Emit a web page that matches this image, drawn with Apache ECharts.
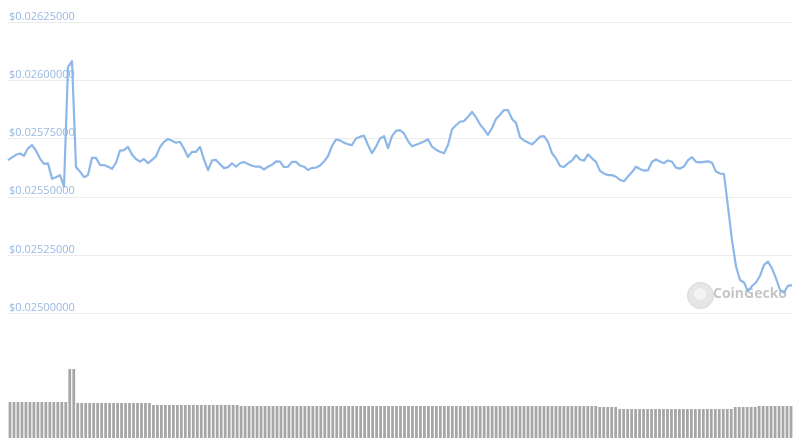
<!DOCTYPE html>
<html>
<head>
<meta charset="utf-8">
<script src="https://cdn.jsdelivr.net/npm/echarts@6/dist/echarts.min.js"></script>
<style>
html,body{margin:0;padding:0;background:#fff;}
#chart{width:800px;height:446px;}
</style>
</head>
<body>
<div id="chart"></div>
<script>
// Price (USD) sampled evenly across the period
var prices = [
0.025657,0.025669,0.025680,0.025686,0.025676,0.025708,0.025722,0.025698,0.025664,0.025641,
0.025643,0.025578,0.025584,0.025593,0.025543,0.026056,0.026082,0.025627,0.025608,0.025584,
0.025593,0.025667,0.025667,0.025636,0.025636,0.025629,0.025620,0.025646,0.025698,0.025700,
0.025714,0.025681,0.025662,0.025651,0.025662,0.025644,0.025658,0.025674,0.025713,0.025736,
0.025748,0.025740,0.025732,0.025736,0.025706,0.025671,0.025693,0.025693,0.025714,0.025660,
0.025614,0.025656,0.025658,0.025640,0.025623,0.025627,0.025644,0.025629,0.025644,0.025649,
0.025641,0.025633,0.025629,0.025629,0.025617,0.025629,0.025637,0.025652,0.025651,0.025627,
0.025629,0.025650,0.025650,0.025634,0.025629,0.025615,0.025624,0.025625,0.025634,0.025651,
0.025675,0.025718,0.025746,0.025742,0.025732,0.025725,0.025722,0.025750,0.025758,0.025762,
0.025722,0.025687,0.025715,0.025750,0.025760,0.025709,0.025760,0.025783,0.025786,0.025772,
0.025739,0.025717,0.025723,0.025730,0.025737,0.025747,0.025715,0.025702,0.025693,0.025687,
0.025722,0.025790,0.025807,0.025822,0.025825,0.025843,0.025864,0.025841,0.025811,0.025789,
0.025766,0.025795,0.025834,0.025852,0.025872,0.025872,0.025834,0.025817,0.025756,0.025741,
0.025733,0.025725,0.025740,0.025758,0.025760,0.025736,0.025687,0.025665,0.025632,0.025628,
0.025644,0.025655,0.025679,0.025660,0.025655,0.025682,0.025665,0.025650,0.025611,0.025600,
0.025593,0.025593,0.025586,0.025572,0.025567,0.025587,0.025606,0.025629,0.025619,0.025612,
0.025614,0.025650,0.025660,0.025651,0.025644,0.025656,0.025650,0.025625,0.025621,0.025630,
0.025657,0.025670,0.025650,0.025648,0.025650,0.025652,0.025646,0.025608,0.025600,0.025597,
0.025457,0.025314,0.025202,0.025143,0.025132,0.025094,0.025117,0.025132,0.025161,0.025208,
0.025222,0.025193,0.025150,0.025100,0.025089,0.025118,0.025121
];

// Trading volume (relative units)
var volumes = [
36,36,36,36,36,36,36,36,36,36,
36,36,36,36,36,69,69,35,35,35,
35,35,35,35,35,35,35,35,35,35,
35,35,35,35,35,35,33,33,33,33,
33,33,33,33,33,33,33,33,33,33,
33,33,33,33,33,33,33,33,32,32,
32,32,32,32,32,32,32,32,32,32,
32,32,32,32,32,32,32,32,32,32,
32,32,32,32,32,32,32,32,32,32,
32,32,32,32,32,32,32,32,32,32,
32,32,32,32,32,32,32,32,32,32,
32,32,32,32,32,32,32,32,32,32,
32,32,32,32,32,32,32,32,32,32,
32,32,32,32,32,32,32,32,32,32,
32,32,32,32,32,32,32,32,31,31,
31,31,31,29,29,29,29,29,29,29,
29,29,29,29,29,29,29,29,29,29,
29,29,29,29,29,29,29,29,29,29,
29,29,31,31,31,31,31,31,32,32,
32,32,32,32,32,32,32
];

// Price axis ticks
var priceMin = 0.025;
var priceMax = 0.02625;
var priceStep = 0.00025;

var idx = prices.map(function (_, i) { return String(i); });

var chart = echarts.init(document.getElementById('chart'), null, { renderer: 'canvas' });
chart.setOption({
  animation: false,
  backgroundColor: '#ffffff',
  grid: [
    { left: 8, right: 8, top: 22, height: 291.3 },
    { left: 8, right: 7, top: 368, height: 70 }
  ],
  xAxis: [
    { type: 'category', gridIndex: 0, data: idx, boundaryGap: false,
      axisLine: { show: false }, axisTick: { show: false }, axisLabel: { show: false }, splitLine: { show: false } },
    { type: 'category', gridIndex: 1, data: idx, boundaryGap: true,
      axisLine: { show: false }, axisTick: { show: false }, axisLabel: { show: false }, splitLine: { show: false } }
  ],
  yAxis: [
    { type: 'value', gridIndex: 0, min: priceMin, max: priceMax, interval: priceStep,
      axisLine: { show: false }, axisTick: { show: false },
      splitLine: { show: true, lineStyle: { color: '#ececec', width: 1 } },
      axisLabel: {
        inside: true, margin: 1, verticalAlign: 'bottom', padding: [0, 0, 0, 0],
        color: '#98b8e2', fontSize: 11, fontFamily: 'Open Sans, Arial, sans-serif',
        formatter: function (v) { return '$' + v.toFixed(8); }
      }
    },
    { type: 'value', gridIndex: 1, min: 0, max: 70,
      axisLine: { show: false }, axisTick: { show: false }, axisLabel: { show: false }, splitLine: { show: false } }
  ],
  series: [
    { type: 'line', xAxisIndex: 0, yAxisIndex: 0, data: prices, showSymbol: false, symbol: 'none',
      lineStyle: { color: '#8db7e8', width: 2.2, join: 'round' }, z: 5 },
    { type: 'bar', xAxisIndex: 1, yAxisIndex: 1, data: volumes, barCategoryGap: '30%',
      itemStyle: { color: '#a6a6a6' } }
  ],
  graphic: [
    { type: 'circle', left: 687, top: 282, z: 0, shape: { r: 13 },
      style: { fill: '#e6e6e6', stroke: '#d8d8d8', lineWidth: 1 } },
    { type: 'circle', left: 694, top: 288, z: 0, shape: { r: 6 },
      style: { fill: '#f3f3f3' } },
    { type: 'text', left: 713, top: 287, z: 0,
      style: { text: 'CoinGecko', fill: '#c6c6c6', font: 'bold 14px "Open Sans", Arial, sans-serif' } }
  ]
});
</script>
</body>
</html>
